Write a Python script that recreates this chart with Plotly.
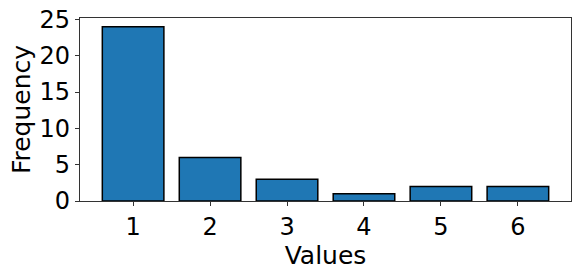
import plotly.graph_objects as go

categories = [1, 2, 3, 4, 5, 6]
frequencies = [24, 6, 3, 1, 2, 2]

fig = go.Figure()
fig.add_trace(go.Bar(
    x=categories, y=frequencies, width=0.8,
    marker=dict(color="#1f77b4", line=dict(color="black", width=1.5)),
))

axis_common = dict(
    showline=True, linecolor="#333333", linewidth=1.2, mirror=True,
    ticks="outside", ticklen=4, tickwidth=1, tickcolor="#333333",
    showgrid=False, zeroline=False, automargin=False,
    tickfont=dict(family="DejaVu Sans", size=24, color="black"),
)

fig.update_layout(
    width=581, height=274,
    margin=dict(l=80, r=10, t=18, b=73, autoexpand=False),
    paper_bgcolor="white", plot_bgcolor="white",
    showlegend=False,
    font=dict(family="DejaVu Sans", color="black"),
    xaxis=dict(range=[0.31, 6.69], tickvals=categories, ticktext=[str(c) for c in categories],
               title=dict(text="Values", font=dict(size=25), standoff=4), **axis_common),
    yaxis=dict(range=[0, 25.2], tickvals=[0, 5, 10, 15, 20, 25],
               title=dict(text="Frequency", font=dict(size=25), standoff=1), **axis_common),
)

fig.write_html("out.html", config={"displayModeBar": False},
               post_script="document.body.style.margin='0';")
